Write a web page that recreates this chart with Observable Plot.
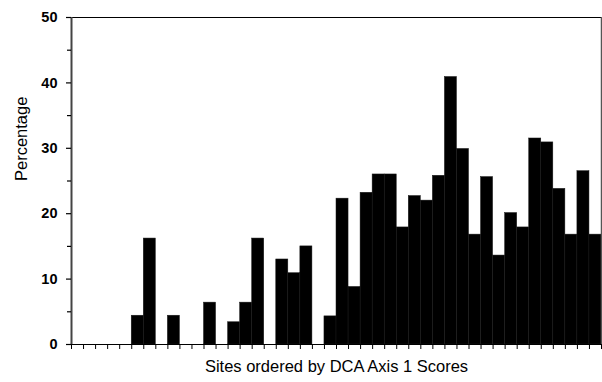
<!DOCTYPE html>
<html>
<head>
<meta charset="utf-8">
<script src="https://cdn.jsdelivr.net/npm/d3@7"></script>
<script src="https://cdn.jsdelivr.net/npm/@observablehq/plot@0.6"></script>
<style>
  html, body { margin: 0; padding: 0; background: #fff; }
  #chart svg { display: block; }
</style>
</head>
<body>
<div id="chart"></div>
<script>
// Sites ordered along DCA axis 1, with the percentage recorded at each
const sites = d3.range(1, 45);
const percentages = [
  0, 0, 0, 0, 0, 4.4, 16.2, 0, 4.4, 0, 0, 6.4, 0, 3.4, 6.4, 16.2,
  0, 13.0, 10.9, 15.0, 0, 4.3, 22.3, 8.8, 23.2, 26.0, 26.0, 17.9, 22.7, 22.0,
  25.8, 40.9, 29.9, 16.8, 25.6, 13.6, 20.1, 17.9, 31.5, 30.9, 23.8, 16.8, 26.5, 16.8
];
const majorTicks = [0, 10, 20, 30, 40, 50];
const minorTicks = [5, 15, 25, 35, 45];
const xTitle = "Sites ordered by DCA Axis 1 Scores";
const yTitle = "Percentage";

// each site occupies one unit-wide slot on a linear x scale
const rows = sites.map((s, i) => ({ site: s, start: i, end: i + 1, value: percentages[i] }));
const n = sites.length;

const chart = Plot.plot({
  width: 602,
  height: 382,
  marginLeft: 71,
  marginRight: 1,
  marginTop: 17,
  marginBottom: 38,
  style: { fontFamily: "'Liberation Sans', Arial, sans-serif", background: "#fff" },
  x: { domain: [0, n] },
  y: { domain: [0, 50] },
  marks: [
    Plot.rectY(rows, { x1: "start", x2: "end", y: "value", fill: "#000", stroke: "#181818", strokeWidth: 0.5 }),
    // frame: top and right edges
    Plot.ruleY([50], { stroke: "#000", strokeWidth: 1.2 }),
    Plot.ruleX([n], { stroke: "#555", strokeWidth: 1.5 }),
    // axis lines
    Plot.ruleX([0], { stroke: "#444", strokeWidth: 2 }),
    Plot.ruleY([0], { stroke: "#000", strokeWidth: 1.2 }),
    Plot.axisY({ ticks: majorTicks, tickSize: 5, tickPadding: 9, label: null,
      fontSize: 14.5, fontWeight: "bold", stroke: "#000", strokeWidth: 1.2 }),
    Plot.axisY({ ticks: minorTicks, tickSize: 4, tickFormat: () => "", label: null,
      stroke: "#000", strokeWidth: 1.2 }),
    Plot.axisX({ ticks: d3.range(0, n + 1), tickSize: 5, tickFormat: () => "", label: null,
      stroke: "#000", strokeWidth: 1 }),
    Plot.text([xTitle], { frameAnchor: "bottom", dy: 27, fontSize: 16.5, fill: "#000" }),
    Plot.text([yTitle], { frameAnchor: "left", dx: -49.5, rotate: -90, fontSize: 16.5, fill: "#000" })
  ]
});
document.getElementById("chart").append(chart);
</script>
</body>
</html>
